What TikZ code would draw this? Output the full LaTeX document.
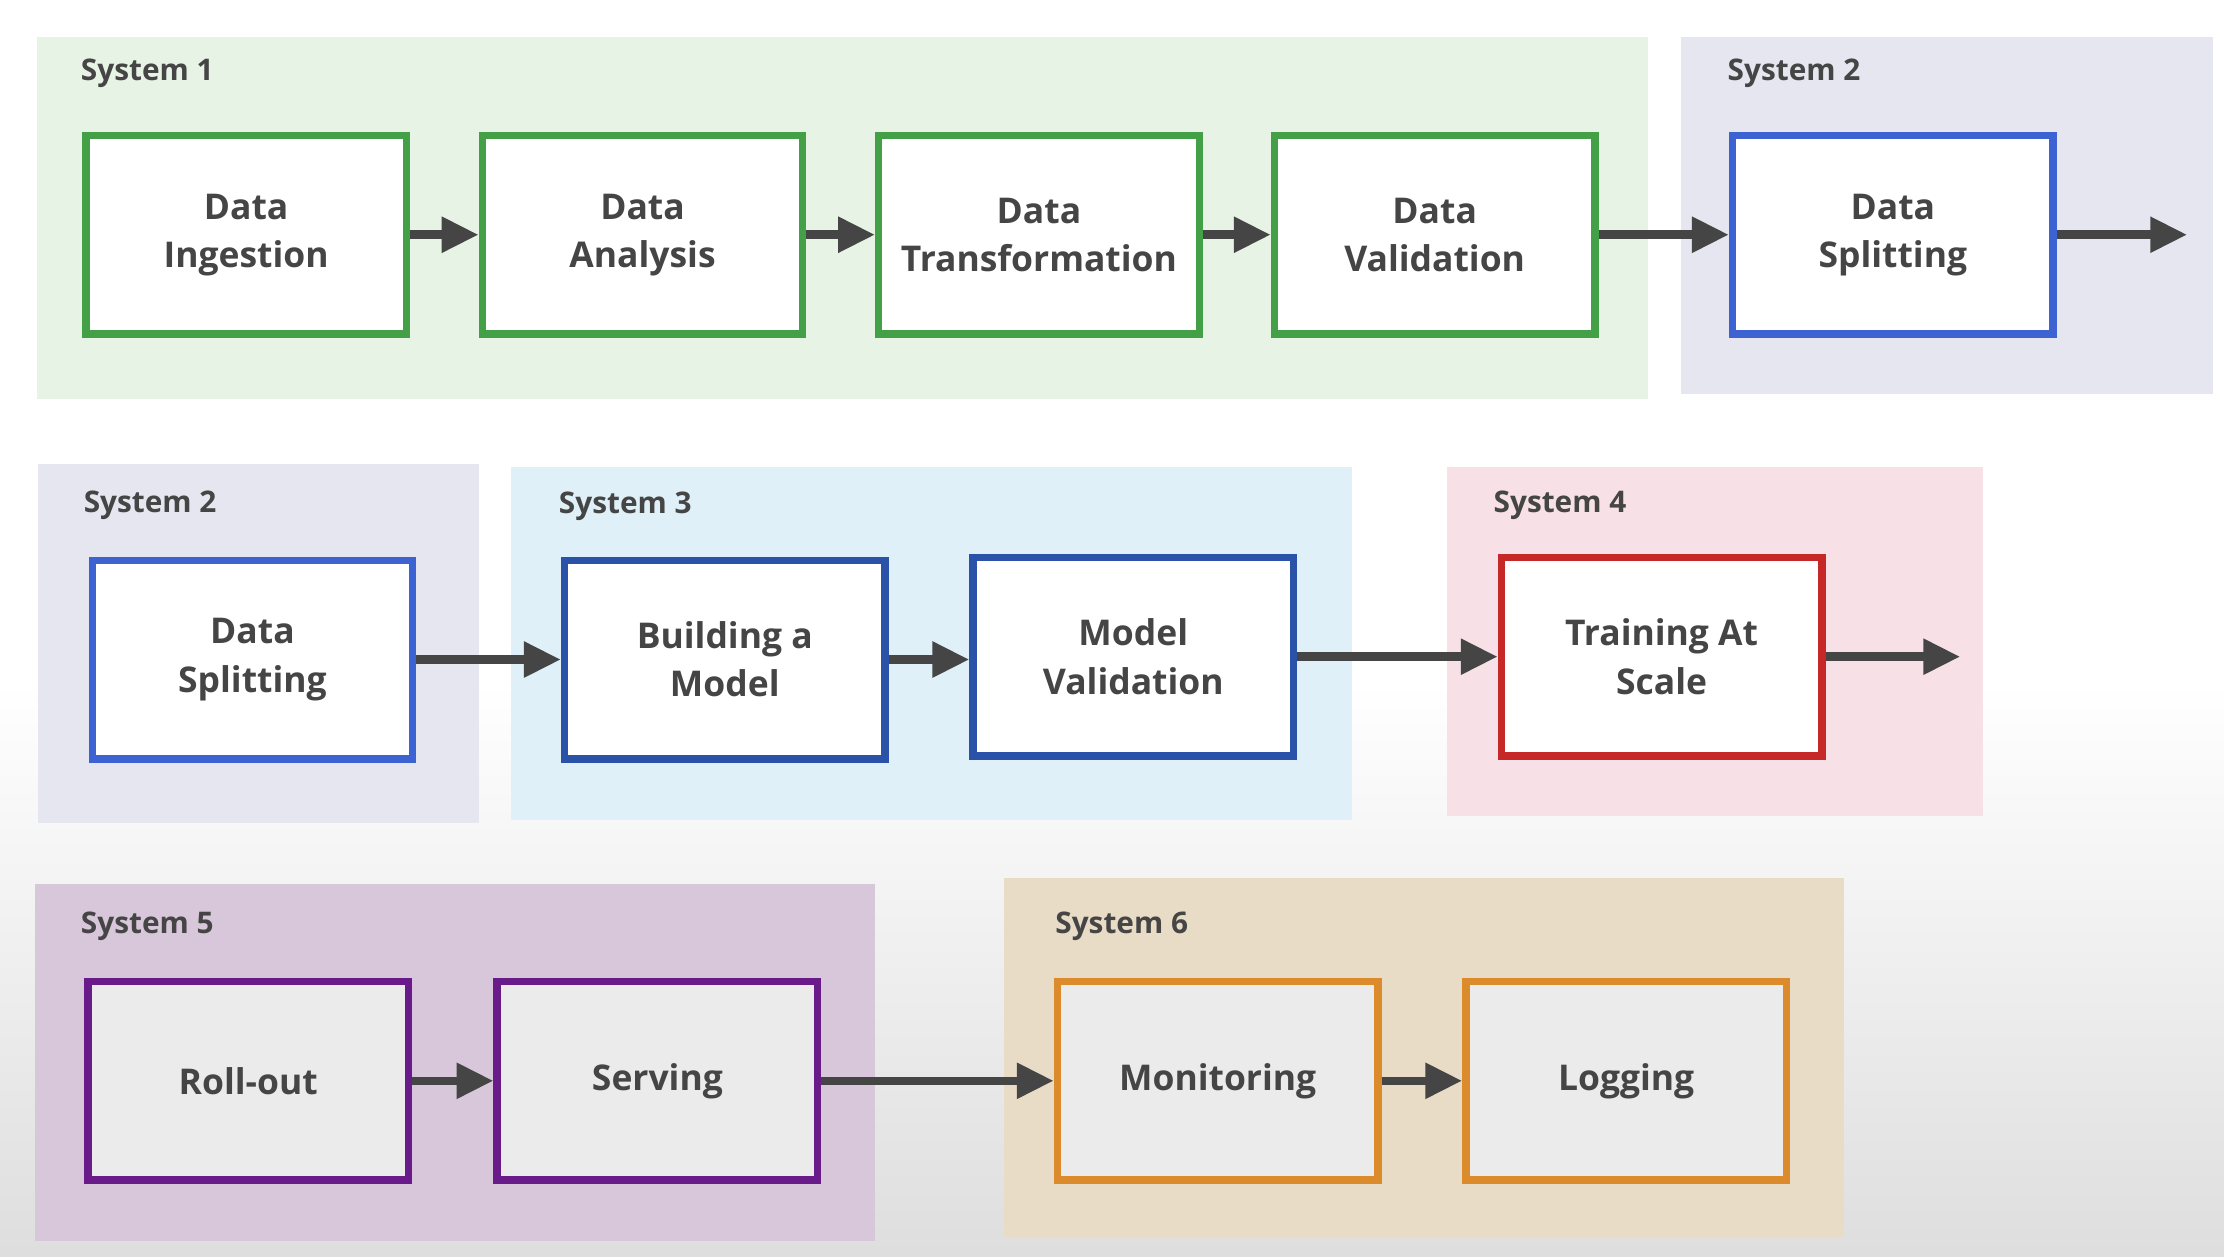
\documentclass[tikz,border=0pt]{standalone}
\usepackage{fontspec}
\setmainfont{Open Sans}
\usetikzlibrary{arrows.meta}
\definecolor{txt}{HTML}{454545}
\definecolor{gr}{HTML}{43A047}
\definecolor{bl}{HTML}{3D63D2}
\definecolor{dbl}{HTML}{2A52A8}
\definecolor{rd}{HTML}{C62828}
\definecolor{pu}{HTML}{6A1B8A}
\definecolor{or}{HTML}{DB8A2C}
\definecolor{p1}{HTML}{E7F3E5}
\definecolor{p2}{HTML}{E6E6F1}
\definecolor{p3}{HTML}{DFF0F8}
\definecolor{p4}{HTML}{F7E1E7}
\definecolor{p5}{HTML}{D8C6DA}
\definecolor{p6}{HTML}{E8DCC7}
\begin{document}
\begin{tikzpicture}[x=0.5pt,y=-0.5pt,
 plabel/.style={anchor=west,text=txt,font=\fontsize{10.5}{13}\selectfont\bfseries},
 box/.style={draw=#1,line width=2.6pt,fill=white,text=txt,align=center,
   font=\fontsize{12.5}{17}\selectfont\bfseries,minimum width=113pt,minimum height=70pt,inner sep=0pt},
 arr/.style={draw=txt,line width=3pt,-{Triangle[length=13pt,width=12pt]}}]
\useasboundingbox (0,0) rectangle (1568,886);
\fill[white] (0,0) rectangle (1568,886);
\shade[top color=white,bottom color=black!13] (0,480) rectangle (1568,886);
% panels
\fill[p1] (26,26) rectangle (1162,281);
\fill[p2] (1185,26) rectangle (1560,278);
\fill[p2] (27,327) rectangle (338,580);
\fill[p3] (360,329) rectangle (953,578);
\fill[p4] (1020,329) rectangle (1398,575);
\fill[p5] (25,623) rectangle (617,875);
\fill[p6] (708,619) rectangle (1300,873);
\node[plabel] (l1) at (50,52) {System 1};
\node[plabel] (l2) at (1211,52) {System 2};
\node[plabel] (l2b) at (52,356) {System 2};
\node[plabel] (l3) at (387,357) {System 3};
\node[plabel] (l4) at (1046,356) {System 4};
\node[plabel] (l5) at (50,653) {System 5};
\node[plabel] (l6) at (737,653) {System 6};
% row1
\node[box=gr] (a) at (173.5,165.5) {Data\\Ingestion};
\node[box=gr] (b) at (453,165.5) {Data\\Analysis};
\node[box=gr] (c) at (732.5,165.5) {Data\\Transformation};
\node[box=gr] (d) at (1011.5,165.5) {Data\\Validation};
\node[box=bl] (e) at (1334.5,165.5) {Data\\Splitting};
\coordinate (eo) at (1542,165.5);
\draw[arr] (a) -- (b); \draw[arr] (b) -- (c); \draw[arr] (c) -- (d); \draw[arr] (d) -- (e);
\draw[arr] (e.east) -- (eo);
% row2
\node[box=bl] (f) at (178,465) {Data\\Splitting};
\node[box=dbl] (g) at (511,465) {Building a\\Model};
\node[box=dbl] (h) at (799,463) {Model\\Validation};
\node[box=rd] (i) at (1171.5,463) {Training At\\Scale};
\coordinate (io) at (1382,463);
\draw[arr] (f) -- (g); \draw[arr] (g.east) -- (g.east -| h.west); \draw[arr] (h) -- (i); \draw[arr] (i.east) -- (io);
% row3
\tikzset{box3/.style={box=#1,fill=black!8}}
\node[box3=pu] (j) at (175,762) {Roll-out};
\node[box3=pu] (k) at (463.5,762) {Serving};
\node[box3=or] (m) at (858.5,762) {Monitoring};
\node[box3=or] (n) at (1146.5,762) {Logging};
\draw[arr] (j) -- (k); \draw[arr] (k) -- (m); \draw[arr] (m) -- (n);
\end{tikzpicture}
\end{document}
